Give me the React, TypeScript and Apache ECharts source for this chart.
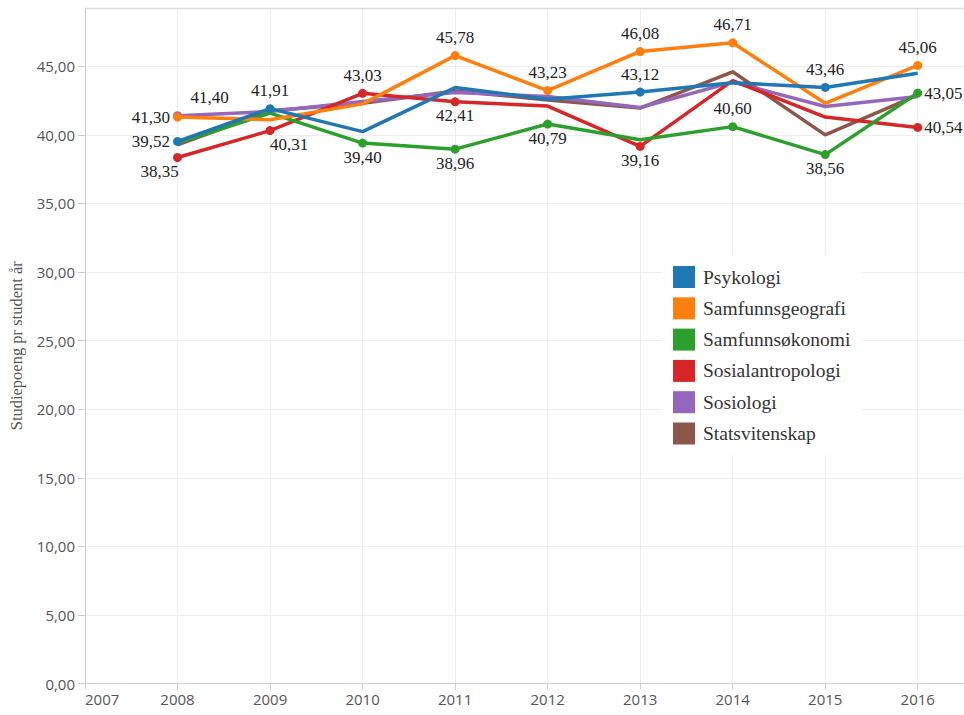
import React, { useEffect, useRef } from "react";
import * as echarts from "echarts";

const years = [2008, 2009, 2010, 2011, 2012, 2013, 2014, 2015, 2016];
const seriesNames = [
  "Psykologi",
  "Samfunnsgeografi",
  "Samfunnsøkonomi",
  "Sosialantropologi",
  "Sosiologi",
  "Statsvitenskap",
];
const psykologi = [39.52, 41.91, 40.24, 43.45, 42.6, 43.12, 43.8, 43.46, 44.5];
const samfunnsgeografi = [41.3, 41.1, 42.26, 45.78, 43.23, 46.08, 46.71, 42.3, 45.06];
const samfunnsokonomi = [39.4, 41.58, 39.4, 38.96, 40.79, 39.65, 40.6, 38.56, 43.05];
const sosialantropologi = [38.35, 40.31, 43.03, 42.41, 42.1, 39.16, 43.95, 41.3, 40.54];
const sosiologi = [41.4, 41.7, 42.43, 43.09, 42.8, 42.0, 43.85, 42.07, 42.8];
const statsvitenskap = [39.27, 41.75, 42.3, 43.2, 42.55, 41.95, 44.6, 40.0, 42.9];

// which points carry a marker + value label, and where the label sits
const psykologiLabels = ["left", "top", "", "", "", "top", "", "top", ""];
const samfunnsgeografiLabels = ["left", "", "", "top", "top", "top", "top", "", "top"];
const samfunnsokonomiLabels = ["", "", "bottom", "bottom", "bottom", "", "top", "bottom", "right"];
const sosialantropologiLabels = ["bottomLeft", "bottomRight", "top", "bottom", "", "bottom", "", "", "right"];
const sosiologiLabels = ["topRight", "", "", "", "", "", "", "", ""];
const statsvitenskapLabels = ["", "", "", "", "", "", "", "", ""];

const allValues = [psykologi, samfunnsgeografi, samfunnsokonomi, sosialantropologi, sosiologi, statsvitenskap];
const allLabels = [
  psykologiLabels,
  samfunnsgeografiLabels,
  samfunnsokonomiLabels,
  sosialantropologiLabels,
  sosiologiLabels,
  statsvitenskapLabels,
];
const colors = ["#1f77b4", "#ff7f0e", "#2ca02c", "#d62728", "#9467bd", "#8c564b"];

const fmt = (v: number) => v.toFixed(2).replace(".", ",");

function labelFor(pos: string) {
  const base: any = {
    show: true,
    color: "#222",
    fontFamily: "Liberation Serif",
    fontSize: 17,
    formatter: (p: any) => fmt(p.value[1]),
  };
  switch (pos) {
    case "top":
      return { ...base, position: "top", distance: 5 };
    case "bottom":
      return { ...base, position: "bottom", distance: 1 };
    case "left":
      return { ...base, position: "left", distance: 3 };
    case "right":
      return { ...base, position: "right", distance: 2 };
    case "topRight":
      return { ...base, position: "top", distance: 5, offset: [32, 0] };
    case "bottomLeft":
      return { ...base, position: "bottom", distance: 1, offset: [-18, 0] };
    case "bottomRight":
      return { ...base, position: "bottom", distance: 1, offset: [19, 0] };
    default:
      return { show: false };
  }
}

export default function App() {
  const ref = useRef<HTMLDivElement>(null);
  useEffect(() => {
    if (!ref.current) return;
    const chart = echarts.init(ref.current, null, { renderer: "svg" });
    const series = seriesNames.map((name, si) => ({
      name,
      type: "line",
      z: 10 - si,
      lineStyle: { width: 3.5, color: colors[si] },
      itemStyle: { color: colors[si] },
      symbol: "circle",
      symbolSize: 9,
      showSymbol: true,
      emphasis: { disabled: true },
      data: years.map((y, i) => {
        const pos = allLabels[si][i];
        return {
          value: [y, allValues[si][i]],
          symbol: pos ? "circle" : "none",
          label: labelFor(pos),
        };
      }),
    }));
    chart.setOption({
      animation: false,
      color: colors,
      grid: { left: 85, top: 8, right: 0, bottom: 31.5, containLabel: false },
      xAxis: {
        type: "value",
        min: 2007,
        max: 2016.5,
        interval: 1,
        axisLine: { show: true, lineStyle: { color: "#ccc" } },
        axisTick: { show: true, length: 6, lineStyle: { color: "#ccc" } },
        splitLine: { show: true, lineStyle: { color: "#eee" } },
        axisLabel: {
          showMaxLabel: false,
          alignMinLabel: "left",
          color: "#555",
          fontFamily: "Open Sans",
          fontSize: 15,
          margin: 8,
          formatter: (v: number) => String(v),
        },
      },
      yAxis: {
        type: "value",
        min: 0,
        max: 49.25,
        interval: 5,
        name: "Studiepoeng pr student år",
        nameLocation: "middle",
        nameGap: 60,
        nameTextStyle: { fontFamily: "Liberation Serif", fontSize: 16.5, color: "#555" },
        axisLine: { show: true, lineStyle: { color: "#ccc" } },
        axisTick: { show: true, length: 7, lineStyle: { color: "#ccc" } },
        splitLine: { show: true, lineStyle: { color: "#eee" } },
        axisLabel: {
          showMaxLabel: false,
          color: "#555",
          fontFamily: "Open Sans",
          fontSize: 15,
          margin: 10,
          formatter: (v: number) => fmt(v),
        },
      },
      graphic: [
        {
          type: "rect",
          z: 3,
          shape: { x: 662, y: 255, width: 200, height: 200 },
          style: { fill: "#fff" },
          silent: true,
        },
        {
          type: "line",
          z: 3,
          shape: { x1: 85, y1: 8.5, x2: 964, y2: 8.5 },
          style: { stroke: "#ddd", lineWidth: 1.5 },
          silent: true,
        },
      ],
      legend: {
        orient: "vertical",
        left: 663,
        top: 256,
        padding: 10,
        itemWidth: 22,
        itemHeight: 22,
        itemGap: 9.3,
        icon: "rect",
        selectedMode: false,
        data: seriesNames,
        textStyle: {
          fontFamily: "Liberation Serif",
          fontSize: 19.5,
          color: "#333",
          padding: [0, 0, 0, 3],
        },
      },
      series,
    });
    return () => chart.dispose();
  }, []);
  return (
    <div
      ref={ref}
      style={{ position: "fixed", left: 0, top: 0, width: 964, height: 715, background: "#fff" }}
    />
  );
}
